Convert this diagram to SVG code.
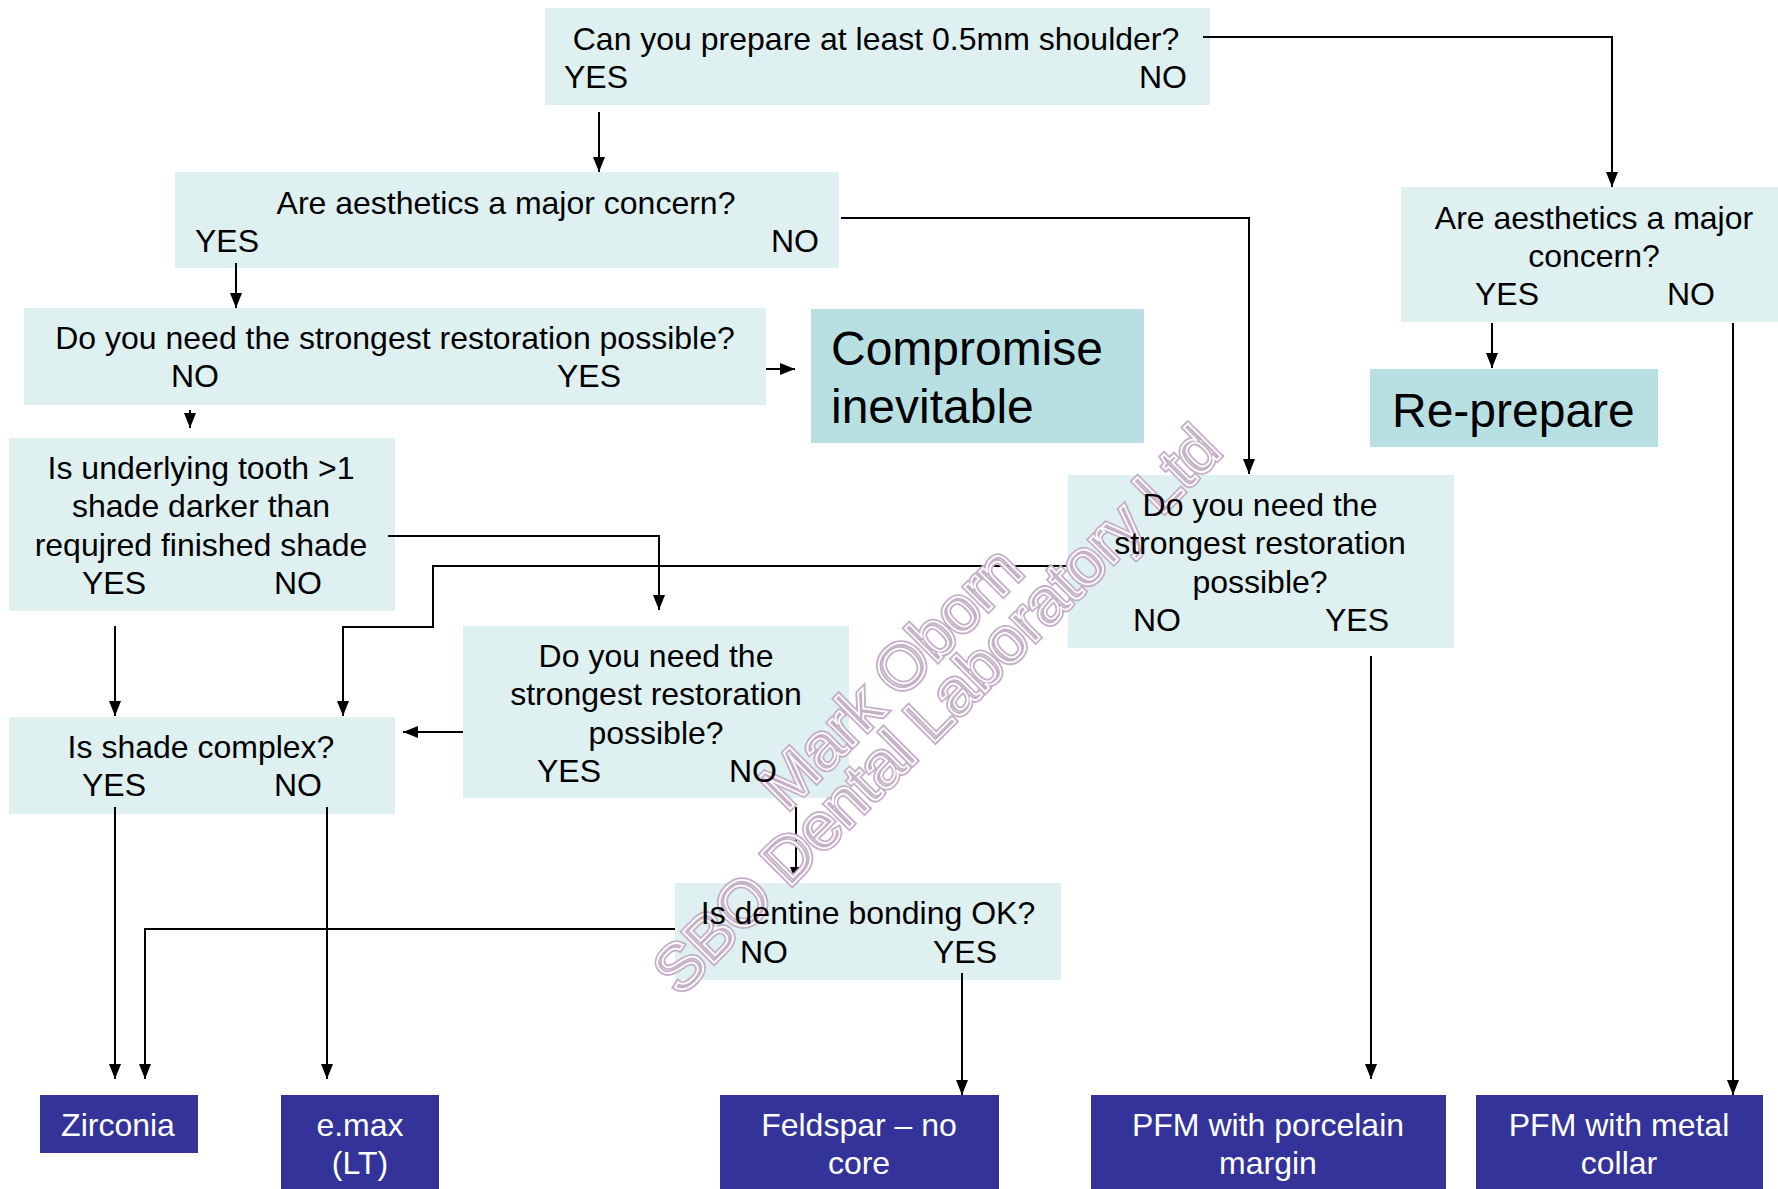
<svg xmlns="http://www.w3.org/2000/svg" width="1778" height="1189" viewBox="0 0 1778 1189">
<defs>
<marker id="ah" markerUnits="userSpaceOnUse" markerWidth="15" markerHeight="12" refX="15" refY="6" orient="auto">
<path d="M0,0 L15,6 L0,12 z" fill="#000"/>
</marker>
<style>
.q{fill:#dff0f0}
.big{fill:#b8e0e3}
.res{fill:#333399}
text{font-family:"Liberation Sans",Arial,sans-serif;font-size:32px;fill:#000}
.c{text-anchor:middle}
.e{text-anchor:end}
.lg{font-size:48px}
.w{fill:#fff}
.conn path{fill:none;stroke:#000;stroke-width:2;marker-end:url(#ah)}
.wm{font-size:64px;text-anchor:middle;fill:none}
.wm1{stroke:#c6afc9;stroke-width:5.5}
.wm2{stroke:#fff;stroke-width:1.8}
</style>
</defs>
<rect width="1778" height="1189" fill="#fff"/>

<g id="n_shoulder"><rect class="q" x="545" y="8" width="665" height="97"/></g>
<g id="n_aesth1"><rect class="q" x="175" y="172" width="664" height="96"/></g>
<g id="n_strong1"><rect class="q" x="24" y="308" width="742" height="97"/></g>
<g id="n_compromise"><rect class="big" x="811" y="309" width="333" height="134"/></g>
<g id="n_aesth2"><rect class="q" x="1401" y="187" width="377" height="135"/></g>
<g id="n_reprep"><rect class="big" x="1370" y="369" width="288" height="78"/></g>
<g id="n_strong3"><rect class="q" x="1068" y="475" width="386" height="173"/></g>
<g id="n_underlying"><rect class="q" x="9" y="438" width="386" height="173"/></g>
<g id="n_shade"><rect class="q" x="9" y="717" width="386" height="97"/></g>
<g id="n_strong2"><rect class="q" x="463" y="626" width="386" height="172"/></g>
<g id="n_dentine"><rect class="q" x="675" y="883" width="386" height="97"/></g>
<g id="n_zirconia"><rect class="res" x="40" y="1095" width="158" height="58"/></g>
<g id="n_emax"><rect class="res" x="281" y="1095" width="158" height="100"/></g>
<g id="n_feldspar"><rect class="res" x="720" y="1095" width="279" height="100"/></g>
<g id="n_pfmpm"><rect class="res" x="1091" y="1095" width="355" height="100"/></g>
<g id="n_pfmmc"><rect class="res" x="1476" y="1095" width="287" height="100"/></g>

<g id="connectors" class="conn">
<path d="M1203,37 H1612 V187"/>
<path d="M599,112 V172"/>
<path d="M841,218 H1249 V474"/>
<path d="M236,263 V308"/>
<path d="M766,369 H795"/>
<path d="M190,410 V428"/>
<path d="M1492,323 V368"/>
<path d="M1733,323 V1095"/>
<path d="M1068,566 H433 V627 H343 V716"/>
<path d="M388,536 H659 V610"/>
<path d="M115,626 V716"/>
<path d="M463,732 H403"/>
<path d="M796,807 V882"/>
<path d="M675,929 H145 V1079"/>
<path d="M115,807 V1079"/>
<path d="M327,807 V1079"/>
<path d="M962,973 V1095"/>
<path d="M1371,656 V1079"/>
</g>

<g id="watermark">
<text class="wm wm1" transform="translate(906,693) rotate(-45)">Mark Oborn</text>
<text class="wm wm2" transform="translate(906,693) rotate(-45)">Mark Oborn</text>
<text class="wm wm1" transform="translate(952,725) rotate(-45)">SBO Dental Laboratory Ltd</text>
<text class="wm wm2" transform="translate(952,725) rotate(-45)">SBO Dental Laboratory Ltd</text>
</g>

<g id="labels">
<text class="c" x="876" y="50">Can you prepare at least 0.5mm shoulder?</text>
<text x="564" y="88">YES</text>
<text class="e" x="1187" y="88">NO</text>

<text class="c" x="506" y="214">Are aesthetics a major concern?</text>
<text x="195" y="252">YES</text>
<text class="e" x="819" y="252">NO</text>

<text class="c" x="395" y="349">Do you need the strongest restoration possible?</text>
<text x="171" y="387">NO</text>
<text x="557" y="387">YES</text>

<text class="lg" x="831" y="365">Compromise</text>
<text class="lg" x="831" y="423">inevitable</text>

<text class="c" x="1594" y="229">Are aesthetics a major</text>
<text class="c" x="1594" y="267">concern?</text>
<text x="1475" y="305">YES</text>
<text x="1667" y="305">NO</text>

<text class="lg" x="1392" y="427">Re-prepare</text>

<text class="c" x="1260" y="516">Do you need the</text>
<text class="c" x="1260" y="554">strongest restoration</text>
<text class="c" x="1260" y="593">possible?</text>
<text x="1133" y="631">NO</text>
<text x="1325" y="631">YES</text>

<text class="c" x="201" y="479">Is underlying tooth &gt;1</text>
<text class="c" x="201" y="517">shade darker than</text>
<text class="c" x="201" y="556">requjred finished shade</text>
<text x="82" y="594">YES</text>
<text x="274" y="594">NO</text>

<text class="c" x="201" y="758">Is shade complex?</text>
<text x="82" y="796">YES</text>
<text x="274" y="796">NO</text>

<text class="c" x="656" y="667">Do you need the</text>
<text class="c" x="656" y="705">strongest restoration</text>
<text class="c" x="656" y="744">possible?</text>
<text x="537" y="782">YES</text>
<text x="729" y="782">NO</text>

<text class="c" x="868" y="924">Is dentine bonding OK?</text>
<text x="740" y="963">NO</text>
<text x="933" y="963">YES</text>

<text class="c w" x="118" y="1136">Zirconia</text>
<text class="c w" x="360" y="1136">e.max</text>
<text class="c w" x="360" y="1174">(LT)</text>
<text class="c w" x="859" y="1136">Feldspar – no</text>
<text class="c w" x="859" y="1174">core</text>
<text class="c w" x="1268" y="1136">PFM with porcelain</text>
<text class="c w" x="1268" y="1174">margin</text>
<text class="c w" x="1619" y="1136">PFM with metal</text>
<text class="c w" x="1619" y="1174">collar</text>
</g>
</svg>
